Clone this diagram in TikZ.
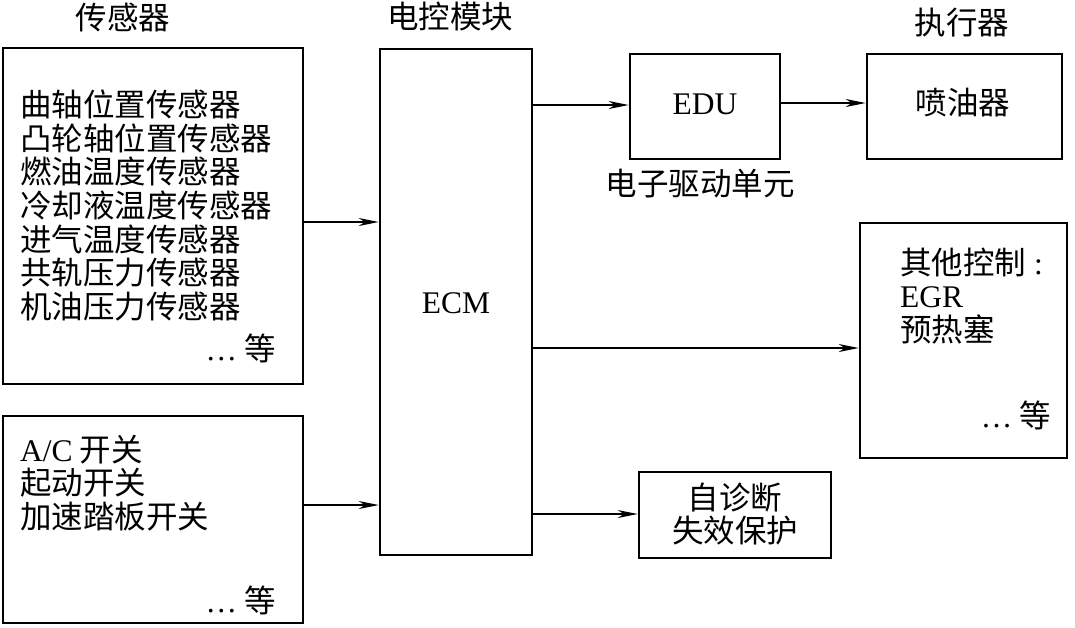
\documentclass[tikz,border=0pt]{standalone}
\usepackage{fontspec}
\setmainfont{Liberation Serif}
\newfontfamily\cjk{Noto Sans CJK SC}
\usetikzlibrary{arrows.meta}
\newcommand\cz{\cjk\fontsize{31.5}{33.6}\selectfont}
\newcommand\lt{\rmfamily\fontsize{31.5}{33.6}\selectfont}
\begin{document}
\begin{tikzpicture}[x=1pt,y=-1pt,
  box/.style={draw, line width=2.6pt, inner sep=0pt},
  arr/.style={line width=1.4pt, -{Stealth[length=20pt,width=8pt,inset=6pt]}},
  txt/.style={font=\cz, inner sep=0pt},
  lat/.style={font=\lt, inner sep=0pt}]
\fill[white] (0,0) rectangle (1075,627);
\useasboundingbox (0,0) rectangle (1075,627);
% boxes
\node[box, minimum width=300pt, minimum height=336pt] (sensor) at (153,216) {};
\node[box, minimum width=300pt, minimum height=207pt] (switch) at (153,519.5) {};
\node[box, minimum width=152pt, minimum height=506pt] (ecm) at (456,302) {};
\node[box, minimum width=150pt, minimum height=105pt] (edu) at (705,106.5) {};
\node[box, minimum width=195pt, minimum height=105pt] (inj) at (964.5,106.5) {};
\node[box, minimum width=207pt, minimum height=235pt] (other) at (963.5,340.5) {};
\node[box, minimum width=192pt, minimum height=86pt] (diag) at (735,515) {};
% titles
\node[txt] (t1) at (123,17) {传感器};
\node[txt] (t2) at (450,17) {电控模块};
\node[txt] (t3) at (962,23) {执行器};
% sensor list
\node[txt, anchor=west, align=left] (slist) at (20,205.5) {曲轴位置传感器\\凸轮轴位置传感器\\燃油温度传感器\\冷却液温度传感器\\进气温度传感器\\共轨压力传感器\\机油压力传感器};
\node[txt, anchor=east] (setc) at (276,348) {{\rmfamily …}\ 等};
% switch list
\node[txt, anchor=west, align=left] (swlist) at (20,483) {{\rmfamily A/C} 开关\\起动开关\\加速踏板开关};
\node[txt, anchor=east] (swetc) at (276,600) {{\rmfamily …}\ 等};
% ECM
\node[lat] (ecmt) at (456,303) {ECM};
% EDU
\node[lat] (edut) at (705,104) {EDU};
\node[txt] (edul) at (700,184) {电子驱动单元};
% injector
\node[txt] (injt) at (963,103) {喷油器};
% other
\node[txt, anchor=west, align=left] (olist) at (900,296) {其他控制{\rmfamily\ :}\\{\rmfamily EGR}\\预热塞};
\node[txt, anchor=east] (oetc) at (1051,415) {{\rmfamily …}\ 等};
% diag
\node[txt, align=center] (diagt) at (735,514) {自诊断\\失效保护};
% arrows
\draw[arr] (sensor.east |- 0,222) -- (ecm.west |- 0,222);
\draw[arr] (switch.east |- 0,505) -- (ecm.west |- 0,505);
\draw[arr] (ecm.east |- 0,105) -- (edu.west |- 0,105);
\draw[arr] (edu.east |- 0,103) -- (inj.west |- 0,103);
\draw[arr] (ecm.east |- 0,348) -- (other.west |- 0,348);
\draw[arr] (ecm.east |- 0,514) -- (diag.west |- 0,514);
\end{tikzpicture}
\end{document}
